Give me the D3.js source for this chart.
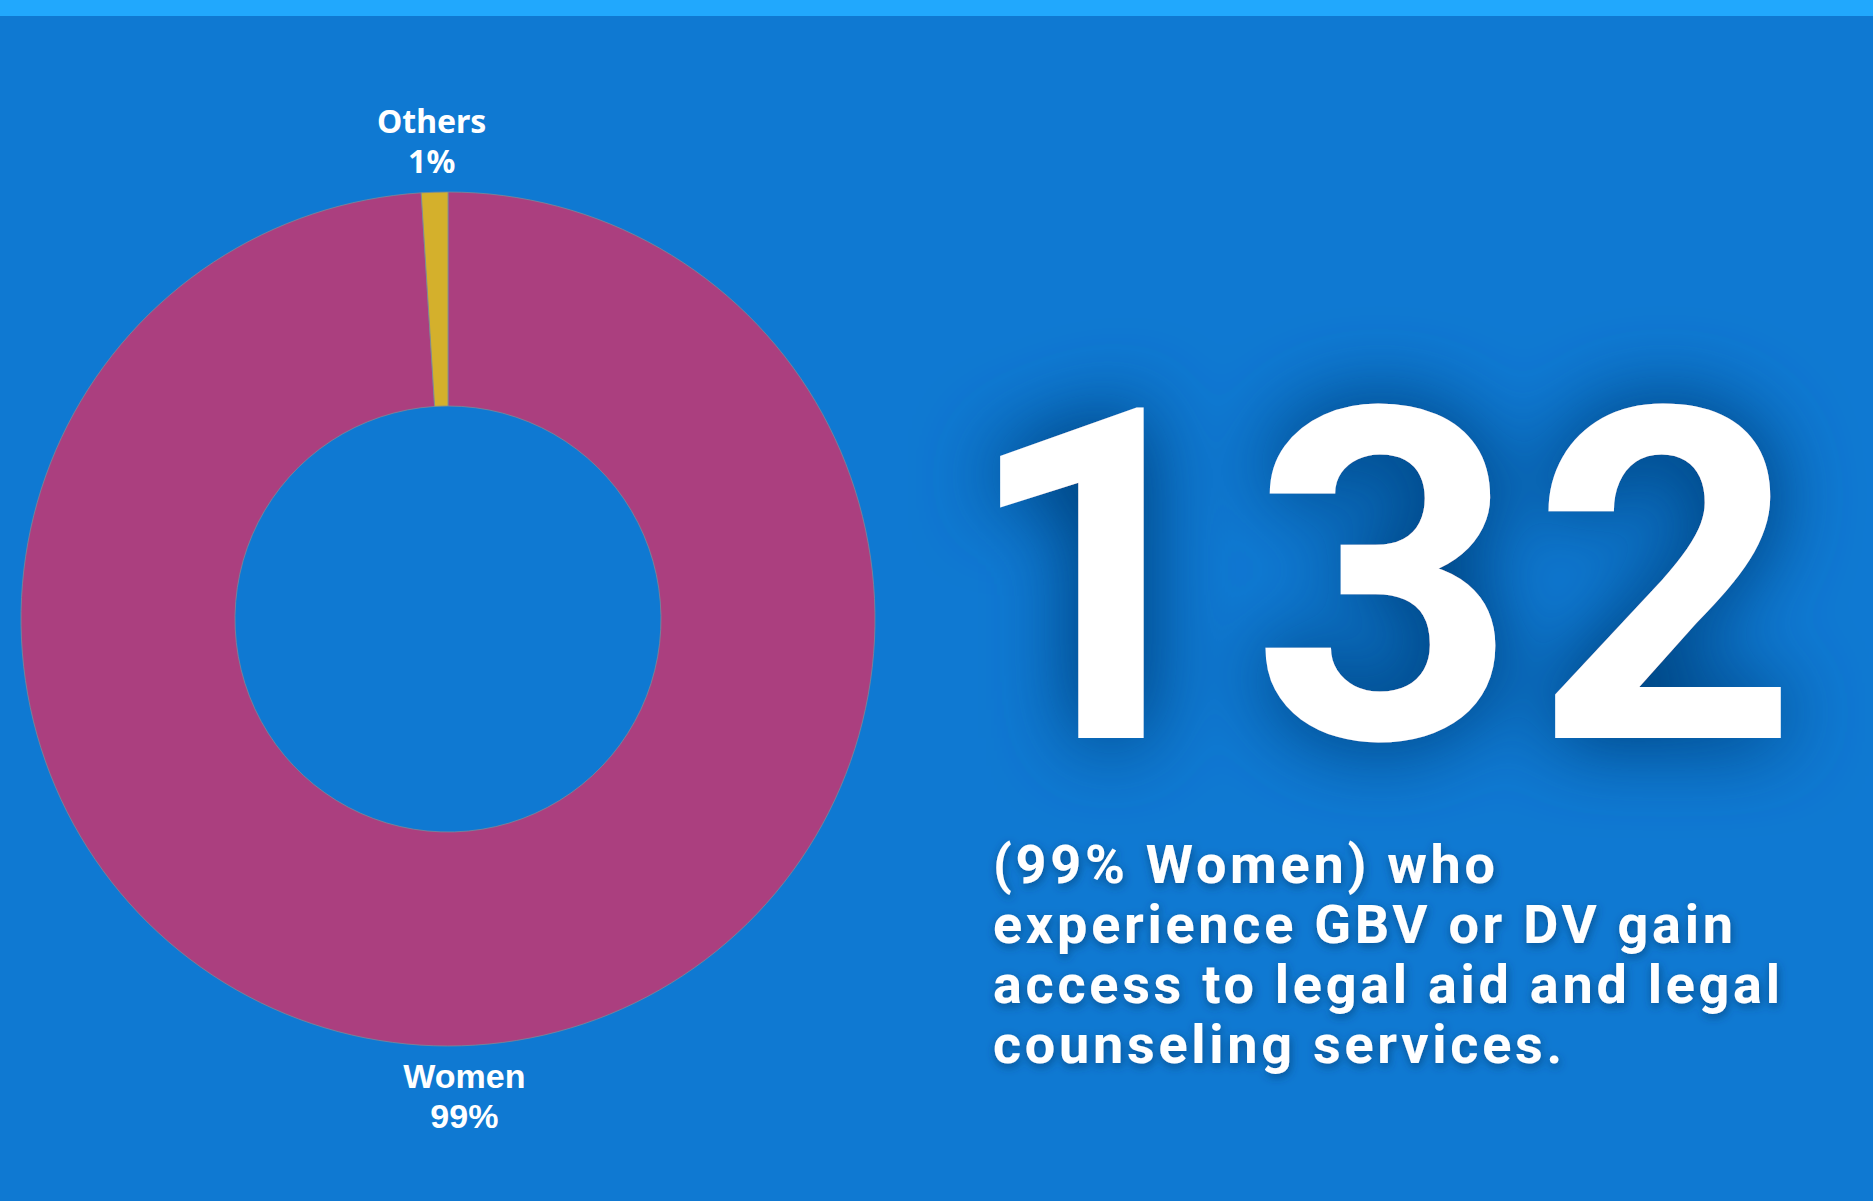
<!DOCTYPE html>
<html>
<head>
<meta charset="utf-8">
<script src="https://cdn.jsdelivr.net/npm/d3@7"></script>
<style>
  html, body { margin: 0; padding: 0; background: #0f79d2; }
  svg { display: block; }
</style>
</head>
<body>
<svg id="chart"></svg>
<script>
var categories = ['Women', 'Others'],
    shares = [99, 1],
    shareLabels = ['99%', '1%'],
    bigNumber = '132',
    blurbLines = [
      '(99% Women) who',
      'experience GBV or DV gain',
      'access to legal aid and legal',
      'counseling services.'
    ];

var W = 1873, H = 1201,
    cx = 448, cy = 619,
    outerR = 427, innerR = 213,
    colors = ['#ab3f7f', '#d4b02c'];

var svg = d3.select('#chart').attr('width', W).attr('height', H);
var defs = svg.append('defs');

// broad dark glow behind the big number
var glow = defs.append('filter').attr('id', 'glow')
    .attr('x', '-30%').attr('y', '-30%').attr('width', '160%').attr('height', '160%');
glow.append('feGaussianBlur')
    .attr('in', 'SourceAlpha').attr('stdDeviation', 42).attr('result', 'blur');
glow.append('feComponentTransfer').attr('in', 'blur').attr('result', 'boost')
    .append('feFuncA').attr('type', 'linear').attr('slope', 1.5);
glow.append('feFlood').attr('flood-color', '#064b8c').attr('result', 'col');
glow.append('feComposite').attr('in', 'col').attr('in2', 'boost')
    .attr('operator', 'in').attr('result', 'shadow');
var gm = glow.append('feMerge');
gm.append('feMergeNode').attr('in', 'shadow');
gm.append('feMergeNode').attr('in', 'SourceGraphic');

defs.append('filter').attr('id', 'soft')
    .attr('x', '-10%').attr('y', '-30%').attr('width', '120%').attr('height', '160%')
    .append('feDropShadow')
    .attr('dx', 1).attr('dy', 3)
    .attr('stdDeviation', 5)
    .attr('flood-color', '#053a6e')
    .attr('flood-opacity', 0.7);

svg.append('rect').attr('width', W).attr('height', H).attr('fill', '#0f79d2');
svg.append('rect').attr('width', W).attr('height', 16).attr('fill', '#21a8fd');

// donut
var pie = d3.pie().sort(null).value(function(d){ return d; }),
    arcs = pie(shares),
    arc = d3.arc().innerRadius(innerR).outerRadius(outerR);

var g = svg.append('g').attr('transform', 'translate(' + cx + ',' + cy + ')');

g.selectAll('path.slice')
    .data(arcs)
    .enter()
    .append('path')
    .attr('class', 'slice')
    .attr('d', arc)
    .attr('fill', function(d, i){ return colors[i]; })
    .attr('stroke', '#7a8a99')
    .attr('stroke-width', 0.8);

// labels: x follows the slice mid angle, y sits just outside the ring
var labelR = 520;
arcs.forEach(function(d, i){
    var mid = (d.startAngle + d.endAngle) / 2,
        x = Math.sin(mid) * labelR,
        top = Math.cos(mid) > 0,
        lines = [categories[i], shareLabels[i]],
        y0 = top ? -outerR - 19 - 40 : outerR + 42;

    var t = g.append('text')
        .attr('text-anchor', 'middle')
        .attr('fill', '#ffffff')
        .style('font-family', top ? '"Noto Sans", sans-serif' : '"Liberation Sans", Arial, sans-serif')
        .style('font-weight', 700)
        .style('font-size', top ? '32px' : '34px');

    t.selectAll('tspan')
        .data(lines)
        .enter()
        .append('tspan')
        .attr('x', x)
        .attr('y', function(l, j){ return y0 + j * 40; })
        .text(function(l){ return l; });
});

// big number
svg.append('text')
    .attr('x', 962)
    .attr('y', 738)
    .attr('dx', '0 0 -8')
    .attr('fill', '#ffffff')
    .attr('filter', 'url(#glow)')
    .style('font-family', 'Roboto, sans-serif')
    .style('font-weight', 700)
    .style('font-size', '464px')
    .style('letter-spacing', '23px')
    .text(bigNumber);

// blurb
var blurb = svg.append('text')
    .attr('fill', '#ffffff')
    .attr('filter', 'url(#soft)')
    .style('font-family', 'Roboto, sans-serif')
    .style('font-weight', 700)
    .style('font-size', '54px');

var spans = blurb.selectAll('tspan')
    .data(blurbLines)
    .enter()
    .append('tspan')
    .attr('x', 993)
    .attr('y', function(l, i){ return 883 + i * 60; })
    .text(function(l){ return l; });

var widest = spans.nodes()[2],
    w = widest.getComputedTextLength(),
    spacing = (787 - w) / (blurbLines[2].length - 1);
blurb.style('letter-spacing', spacing + 'px');
</script>
</body>
</html>
